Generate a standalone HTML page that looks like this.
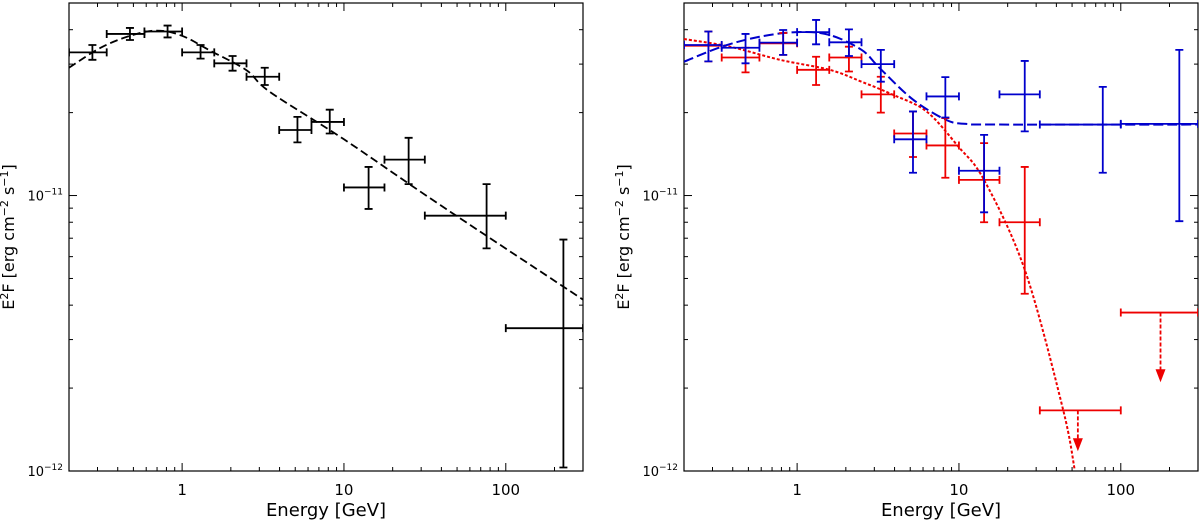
<!DOCTYPE html>
<html><head><meta charset="utf-8"><style>
html,body{margin:0;padding:0;background:#fff;}
svg{display:block;font-family:"DejaVu Sans","Liberation Sans",sans-serif;}
</style></head><body>
<svg id="chart" width="1200" height="521" viewBox="0 0 1200 521"></svg>
<script>
// ---------- data ----------
const binEdges = [0.2,0.342,0.585,1,1.58,2.5,3.98,6.3,10,17.8,31.6,100,300];
const leftE    = [0.279,0.476,0.813,1.30,2.05,3.24,5.16,8.17,14.2,25.1,76.1,227];
const leftF    = [3.31e-11,3.86e-11,3.94e-11,3.31e-11,3.02e-11,2.70e-11,1.73e-11,1.85e-11,1.07e-11,1.35e-11,8.45e-12,3.30e-12];
const leftLo   = [3.11e-11,3.67e-11,3.75e-11,3.14e-11,2.84e-11,2.52e-11,1.56e-11,1.68e-11,8.94e-12,1.10e-11,6.43e-12,1.03e-12];
const leftHi   = [3.52e-11,4.06e-11,4.14e-11,3.52e-11,3.21e-11,2.91e-11,1.93e-11,2.05e-11,1.27e-11,1.62e-11,1.10e-11,6.92e-12];
const leftModelE = [0.2,0.311,0.476,0.70,1.0,1.5,2.5,3.48,10,39,300];
const leftModelF = [2.91e-11,3.43e-11,3.80e-11,3.97e-11,3.80e-11,3.35e-11,2.85e-11,2.38e-11,1.60e-11,9.27e-12,4.19e-12];

const rightE   = [0.283,0.480,0.82,1.31,2.09,3.29,5.2,8.24,14.3,25.5,77.4,230];
const blueF    = [3.52e-11,3.44e-11,3.59e-11,3.92e-11,3.60e-11,3.00e-11,1.60e-11,2.29e-11,1.23e-11,2.33e-11,1.81e-11,1.82e-11];
const blueLo   = [3.07e-11,3.02e-11,3.24e-11,3.54e-11,3.21e-11,2.59e-11,1.21e-11,1.92e-11,8.69e-12,1.71e-11,1.21e-11,8.07e-12];
const blueHi   = [3.94e-11,3.86e-11,3.99e-11,4.34e-11,4.01e-11,3.38e-11,2.02e-11,2.69e-11,1.66e-11,3.08e-11,2.48e-11,3.38e-11];
const redF     = [3.50e-11,3.17e-11,3.57e-11,2.86e-11,3.17e-11,2.33e-11,1.68e-11,1.52e-11,1.14e-11,8.0e-12];
const redLo    = [3.07e-11,2.80e-11,3.24e-11,2.52e-11,2.82e-11,2.00e-11,1.38e-11,1.16e-11,8.0e-12,4.40e-12];
const redHi    = [3.94e-11,3.44e-11,3.89e-11,3.19e-11,3.47e-11,2.70e-11,2.02e-11,1.91e-11,1.55e-11,1.27e-11];
const redUlE   = [54.3,176];
const redUlF   = [1.66e-12,3.76e-12];
const redUlTip = [1.18e-12,2.10e-12];
const redModelE = [0.2,0.385,0.783,1.59,2.50,3.92,6.30,9.87,14.4,25.7,43.9,51.9];
const redModelF = [3.70e-11,3.47e-11,3.11e-11,2.86e-11,2.59e-11,2.32e-11,2.02e-11,1.51e-11,1.13e-11,5.31e-12,1.68e-12,1.01e-12];
const blueModelE = [0.2,0.342,0.585,1.0,1.58,2.5,3.24,5.2,8.36,11.1,17.9,300];
const blueModelF = [3.06e-11,3.47e-11,3.77e-11,3.92e-11,3.83e-11,3.38e-11,2.90e-11,2.23e-11,1.88e-11,1.82e-11,1.81e-11,1.81e-11];
const xTickVals = [1,10,100];
const xTickLabels = ["1","10","100"];

// ---------- axes ----------
const NS="http://www.w3.org/2000/svg";
const svg=document.getElementById('chart');
const XMIN=0.2,XMAX=300,YMIN=1e-12,YMAX=5e-11,TOP=3,BOT=471;
function mkX(x0,x1){return e=>x0+(Math.log10(e)-Math.log10(XMIN))/(Math.log10(XMAX)-Math.log10(XMIN))*(x1-x0);}
function yS(f){return BOT-(Math.log10(f)-Math.log10(YMIN))/(Math.log10(YMAX)-Math.log10(YMIN))*(BOT-TOP);}
function el(tag,attrs,parent){const e=document.createElementNS(NS,tag);for(const k in attrs)e.setAttribute(k,attrs[k]);(parent||svg).appendChild(e);return e;}

function catmull(pts){
  let d='M'+pts[0][0]+','+pts[0][1];
  for(let i=0;i<pts.length-1;i++){
    const p0=pts[i-1]||pts[i],p1=pts[i],p2=pts[i+1],p3=pts[i+2]||p2;
    const c1=[p1[0]+(p2[0]-p0[0])/6,p1[1]+(p2[1]-p0[1])/6];
    const c2=[p2[0]-(p3[0]-p1[0])/6,p2[1]-(p3[1]-p1[1])/6];
    d+=' C'+c1[0]+','+c1[1]+' '+c2[0]+','+c2[1]+' '+p2[0]+','+p2[1];
  }
  return d;
}

function panel(name,x0,x1,titleX){
  const g=el('g',{});
  
  
  const xS=mkX(x0,x1);
  const clip=el('clipPath',{id:'clip-'+name},g);
  el('rect',{x:x0,y:TOP,width:x1-x0,height:BOT-TOP},clip);
  const tk=el('g',{stroke:'#000','stroke-width':1},g);
  
  
  for(let d=-1;d<=2;d++)for(let m=1;m<=9;m++){
    const v=m*Math.pow(10,d); if(v<XMIN||v>XMAX)continue;
    const x=xS(v),L=(m===1)?8:4;
    el('line',{x1:x,y1:BOT,x2:x,y2:BOT-L},tk);
    el('line',{x1:x,y1:TOP,x2:x,y2:TOP+L},tk);
  }
  for(let d=-12;d<=-11;d++)for(let m=1;m<=9;m++){
    const v=m*Math.pow(10,d); if(v<YMIN||v>YMAX*1.001)continue;
    const y=yS(v),L=(m===1)?8:4;
    el('line',{x1:x0,y1:y,x2:x0+L,y2:y},tk);
    el('line',{x1:x1,y1:y,x2:x1-L,y2:y},tk);
  }
  const fr=el('rect',{x:x0,y:TOP,width:x1-x0,height:BOT-TOP,fill:'none',stroke:'#000','stroke-width':1.2},g);
  
  
  xTickVals.forEach((v,i)=>{
    const t=el('text',{x:xS(v),y:495,'font-size':15,'text-anchor':'middle'},g);
    t.textContent=xTickLabels[i];
    
    
  });
  [[1e-11,'10','−11'],[1e-12,'10','−12']].forEach(([v,b,e])=>{
    const t=el('text',{x:x0-6,y:yS(v)+5,'font-size':13,'text-anchor':'end'},g);
    t.innerHTML=b+'<tspan dy="-6" font-size="9">'+e+'</tspan>';
    
    
  });
  const xt=el('text',{x:(x0+x1)/2,y:516,'font-size':18,'text-anchor':'middle'},g);
  xt.textContent='Energy [GeV]';
  
  
  const yt=el('text',{x:titleX,y:237,'font-size':16,'text-anchor':'middle',transform:'rotate(-90 '+titleX+' 237)'},g);
  yt.innerHTML='E<tspan dy="-6" font-size="11">2</tspan><tspan dy="6">F [erg cm</tspan><tspan dy="-6" font-size="11">−2</tspan><tspan dy="6"> s</tspan><tspan dy="-6" font-size="11">−1</tspan><tspan dy="6">]</tspan>';
  
  
  const data=el('g',{'clip-path':'url(#clip-'+name+')'},g);
  return {xS,g:data};
}

function errbars(P,E,F,Lo,Hi,color,nm){
  const g=el('g',{stroke:color,'stroke-width':1.8,fill:'none'},P.g);
  
  
  for(let i=0;i<F.length;i++){
    const x=P.xS(E[i]),y=yS(F[i]),xa=P.xS(binEdges[i]),xb=P.xS(binEdges[i+1]),ya=yS(Lo[i]),yb=yS(Hi[i]);
    const pt=el('g',{},g);
    
    
    el('path',{d:`M${xa},${y}H${xb}M${xa},${y-4}V${y+4}M${xb},${y-4}V${y+4}M${x},${ya}V${yb}M${x-4},${ya}H${x+4}M${x-4},${yb}H${x+4}`},pt);
  }
}
function curve(P,E,F,color,dash,w,nm){
  const pts=E.map((e,i)=>[P.xS(e),yS(F[i])]);
  const c=el('path',{d:catmull(pts),fill:'none',stroke:color,'stroke-width':w,'stroke-dasharray':dash},P.g);
  
  
}

const L=panel('left-panel',69,583,14);
curve(L,leftModelE,leftModelF,'#000','8,4',1.8,'model-curve-black');
errbars(L,leftE,leftF,leftLo,leftHi,'#000','data-black');

const R=panel('right-panel',684,1198,629);
curve(R,redModelE,redModelF,'#e00','3,2',2,'model-curve-red');
curve(R,blueModelE,blueModelF,'#00c','10,4',2,'model-curve-blue');
errbars(R,rightE,redF,redLo,redHi,'#e00','data-red');
errbars(R,rightE,blueF,blueLo,blueHi,'#00c','data-blue');
redUlE.forEach((e,i)=>{
  const bi=10+i, x=R.xS(e), y=yS(redUlF[i]), yt=yS(redUlTip[i]);
  const xa=R.xS(binEdges[bi]), xb=R.xS(binEdges[bi+1]);
  const g=el('g',{stroke:'#e00','stroke-width':1.8,fill:'none'},R.g);
  
  
  el('path',{d:`M${xa},${y}H${xb}M${xa},${y-4}V${y+4}M${xb},${y-4}V${y+4}`},g);
  el('path',{d:`M${x},${y}V${yt-12}`,'stroke-dasharray':'4,2'},g);
  el('path',{d:`M${x-5},${yt-13}L${x+5},${yt-13}L${x},${yt}Z`,fill:'#e00',stroke:'none'},g);
});
</script>
</body></html>
